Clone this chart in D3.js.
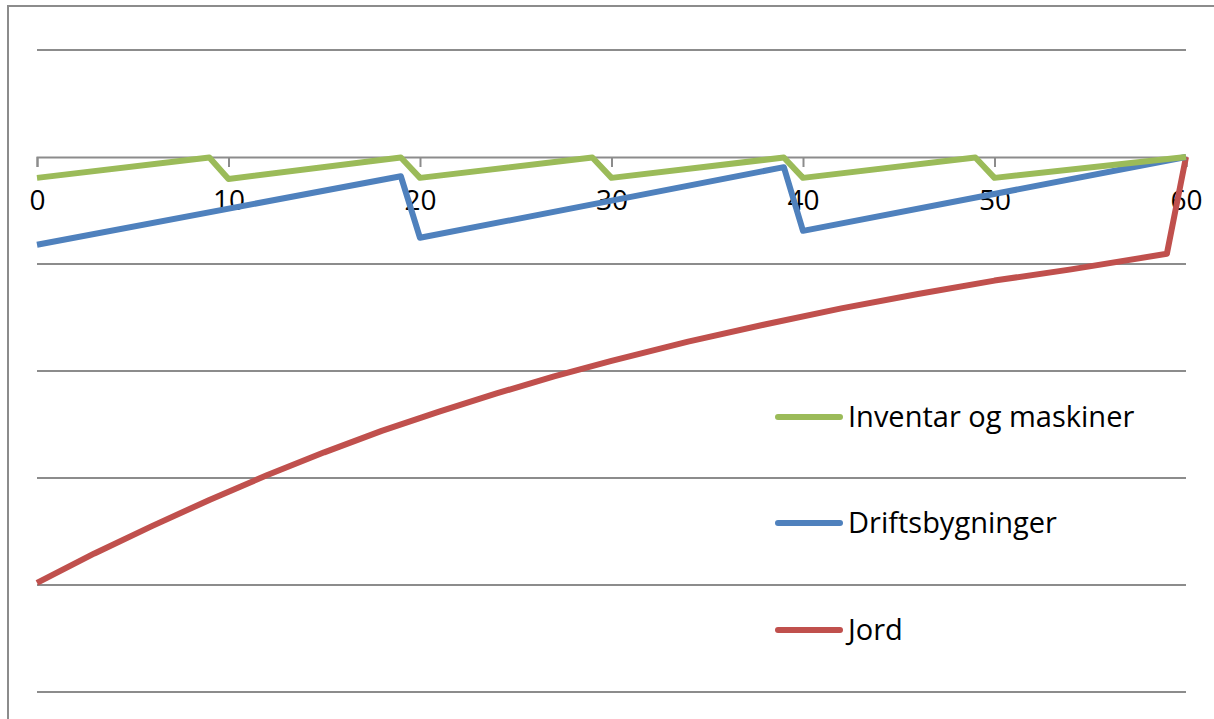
<!DOCTYPE html>
<html>
<head>
<meta charset="utf-8">
<script src="https://cdn.jsdelivr.net/npm/d3@7"></script>
<style>
  html, body { margin: 0; padding: 0; background: #fff; }
  svg { display: block; }
  text { font-family: "Open Sans", "Liberation Sans", sans-serif; fill: #000; }
</style>
</head>
<body>
<svg id="chart" width="1214" height="719"></svg>
<script>
// ---- data ----
const xTicks = [0, 10, 20, 30, 40, 50, 60];
const yGrid = [-100, -80, -60, -40, -20, 0, 20];

const inventarYears  = [0, 9, 10, 19, 20, 29, 30, 39, 40, 49, 50, 60];
const inventarValues = [-3.9, -0.1, -4.1, -0.1, -3.9, -0.1, -3.9, -0.1, -3.9, -0.1, -3.9, 0];

const driftsYears  = [0, 19, 20, 39, 40, 60];
const driftsValues = [-16.4, -3.6, -15.1, -1.9, -13.8, 0];

const jordYears  = [0, 3, 6, 9, 12, 15, 18, 21, 24, 27, 30, 34, 38, 42, 46, 50, 54, 59, 60];
const jordValues = [-79.6, -74.1, -69.0, -64.1, -59.5, -55.2, -51.2, -47.6, -44.2, -41.0, -38.1, -34.5, -31.3, -28.3, -25.6, -23.1, -21.0, -18.1, 0];

const seriesNames  = ["Inventar og maskiner", "Driftsbygninger", "Jord"];
const seriesColors = ["#9BBB59", "#4F81BD", "#C0504D"];

// ---- drawing ----
const svg = d3.select("#chart");

// outer border
svg.append("rect")
  .attr("x", 8).attr("y", 6).attr("width", 1230).attr("height", 730)
  .attr("fill", "none").attr("stroke", "#8c8c8c").attr("stroke-width", 2);

const x = d3.scaleLinear().domain([0, 60]).range([37, 1186]);
const y = d3.scaleLinear().domain([-100, 20]).range([692, 50]);

// gridlines
svg.append("g").selectAll("line")
  .data(yGrid.filter(v => v !== 0))
  .join("line")
  .attr("x1", x(0)).attr("x2", x(60))
  .attr("y1", d => y(d)).attr("y2", d => y(d))
  .attr("stroke", "#8c8c8c").attr("stroke-width", 2);

// x axis at 0
const xAxis = d3.axisBottom(x).tickValues(xTicks).tickSize(10).tickPadding(23).tickFormat(d3.format("d"));
const gx = svg.append("g").attr("transform", `translate(0,${y(0)})`).call(xAxis);
gx.select(".domain").attr("stroke", "#8c8c8c").attr("stroke-width", 2);
gx.selectAll(".tick line").attr("stroke", "#8c8c8c").attr("stroke-width", 2);
gx.selectAll(".tick text")
  .attr("font-family", "'Open Sans', 'Liberation Sans', sans-serif")
  .attr("font-size", 28).attr("fill", "#000");

// series
const series = [
  { years: inventarYears, values: inventarValues },
  { years: driftsYears, values: driftsValues },
  { years: jordYears, values: jordValues }
];
const line = d3.line().x(d => x(d[0])).y(d => y(d[1]));

// draw order: jord, drifts, inventar (green on top)
[2, 1, 0].forEach(i => {
  const s = series[i];
  const pts = s.years.map((yr, k) => [yr, s.values[k]]);
  svg.append("path")
    .datum(pts)
    .attr("d", line)
    .attr("fill", "none")
    .attr("stroke", seriesColors[i])
    .attr("stroke-width", 6)
    .attr("stroke-linejoin", "round");
});

// legend
const legendY = [417, 523, 630];
const lg = svg.append("g");
seriesNames.forEach((name, i) => {
  lg.append("line")
    .attr("x1", 778).attr("x2", 840)
    .attr("y1", legendY[i]).attr("y2", legendY[i])
    .attr("stroke", seriesColors[i]).attr("stroke-width", 6)
    .attr("stroke-linecap", "round");
  lg.append("text")
    .attr("x", 848).attr("y", legendY[i] + 10)
    .attr("font-size", 29)
    .text(name);
});
</script>
</body>
</html>
